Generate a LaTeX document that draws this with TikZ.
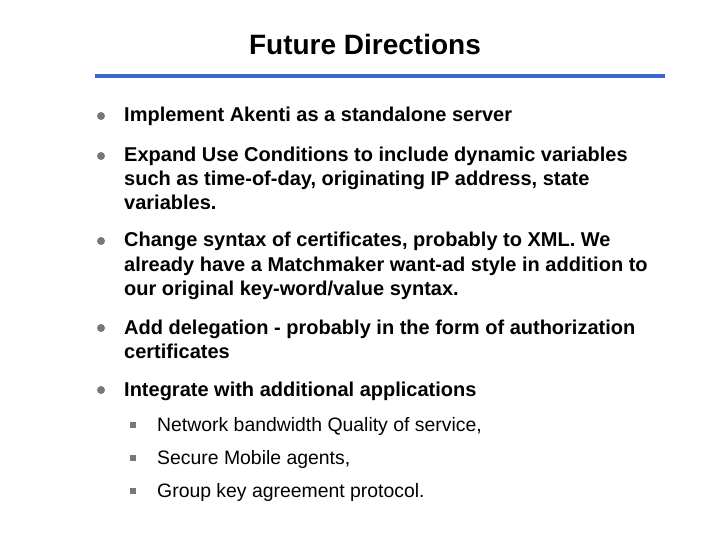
\documentclass[tikz,border=0pt]{standalone}
\usepackage{fontspec}
\setmainfont{Liberation Sans}
\definecolor{rule}{RGB}{60,100,210}
\definecolor{dot}{RGB}{120,120,120}
\begin{document}
\begin{tikzpicture}[x=1pt,y=-1pt,
  item/.style={anchor=base west,font=\fontsize{20}{24}\selectfont\bfseries,inner sep=0},
  sub/.style={anchor=base west,font=\fontsize{19.4}{22}\selectfont,inner sep=0},
  bdot/.style={circle,fill=dot,inner sep=0,minimum size=8pt},
  bsq/.style={rectangle,fill=dot,inner sep=0,minimum size=6pt}]
\useasboundingbox (0,0) rectangle (720,540);
\node[font=\fontsize{28}{32}\selectfont\bfseries,anchor=base] (title) at (365,55) {Future Directions};
\draw[rule,line width=4pt] (95,76) coordinate (r1) -- (665,76) coordinate (r2);
\node[bdot] (d1) at (101,116) {};
\node[item] (i1) at (124,122) {Implement Akenti as a standalone server};
\node[bdot] (d2) at (101,156) {};
\node[item] (i2a) at (124,162) {Expand Use Conditions to include dynamic variables};
\node[item] (i2b) at (124,186) {such as time-of-day, originating IP address, state};
\node[item] (i2c) at (124,210) {variables.};
\node[bdot] (d3) at (101,241) {};
\node[item] (i3a) at (124,247) {Change syntax of certificates, probably to XML. We};
\node[item] (i3b) at (124,271) {already have a Matchmaker want-ad style in addition to};
\node[item] (i3c) at (124,295) {our original key-word/value syntax.};
\node[bdot] (d4) at (101,328) {};
\node[item] (i4a) at (124,334) {Add delegation - probably in the form of authorization};
\node[item] (i4b) at (124,358) {certificates};
\node[bdot] (d5) at (101,390) {};
\node[item] (i5) at (124,396) {Integrate with additional applications};
\node[bsq] (q1) at (133,425) {};
\node[sub] (s1) at (157,431) {Network bandwidth Quality of service,};
\node[bsq] (q2) at (133,458) {};
\node[sub] (s2) at (157,464) {Secure Mobile agents,};
\node[bsq] (q3) at (133,491) {};
\node[sub] (s3) at (157,497) {Group key agreement protocol.};
\end{tikzpicture}
\end{document}
